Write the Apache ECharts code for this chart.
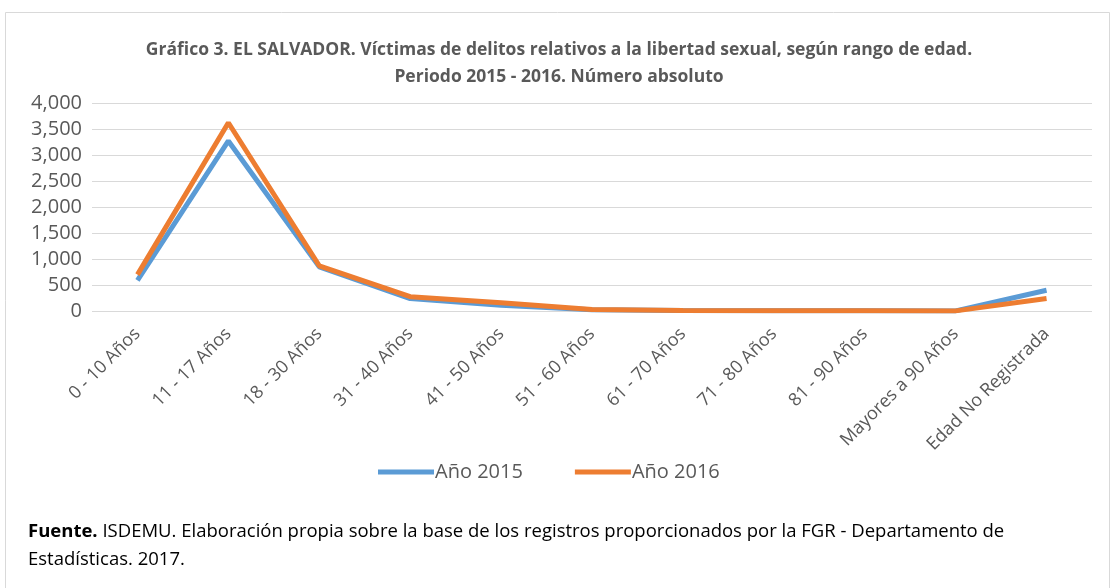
<!DOCTYPE html>
<html>
<head>
<meta charset="utf-8">
<script src="https://cdn.jsdelivr.net/npm/echarts@6/dist/echarts.min.js"></script>
<style>
  html, body { margin: 0; padding: 0; background: #fff; }
  #chart { width: 1118px; height: 588px; }
</style>
</head>
<body>
<div id="chart"></div>
<script>
var categories = ['0 - 10 Años', '11 - 17 Años', '18 - 30 Años', '31 - 40 Años', '41 - 50 Años',
  '51 - 60 Años', '61 - 70 Años', '71 - 80 Años', '81 - 90 Años', 'Mayores a 90 Años', 'Edad No Registrada'];
var anio2015 = [590, 3270, 850, 240, 110, 25, 10, 5, 3, 2, 400];
var anio2016 = [700, 3620, 870, 275, 160, 30, 12, 6, 4, 2, 240];
var yTicks = [0, 500, 1000, 1500, 2000, 2500, 3000, 3500, 4000];

var font = '"Open Sans", "Noto Sans", sans-serif';
var chart = echarts.init(document.getElementById('chart'));

var option = {
  backgroundColor: '#fff',
  animation: false,
  title: {
    text: 'Gráfico 3. EL SALVADOR. Víctimas de delitos relativos a la libertad sexual, según rango de edad.\nPeriodo 2015 - 2016. Número absoluto',
    left: 'center',
    top: 32,
    textStyle: { color: '#595959', fontSize: 17.5, fontWeight: 'bold', fontFamily: font, lineHeight: 27 }
  },
  legend: {
    top: 457,
    left: 373,
    itemWidth: 56,
    itemHeight: 5,
    itemGap: 52,
    icon: 'rect',
    textStyle: { color: '#595959', fontSize: 20, fontFamily: font, padding: [0, 0, 0, -4] },
    data: ['Año 2015', 'Año 2016']
  },
  grid: { left: 92, right: 26, top: 103, bottom: 277, containLabel: false },
  xAxis: {
    type: 'category',
    data: categories,
    boundaryGap: true,
    axisLine: { show: false },
    axisTick: { show: false },
    axisLabel: { rotate: 45, color: '#595959', fontSize: 18, fontFamily: font, margin: 20, interval: 0 }
  },
  yAxis: {
    type: 'value',
    min: yTicks[0],
    max: yTicks[yTicks.length - 1],
    interval: 500,
    axisLine: { show: false },
    axisTick: { show: false },
    splitLine: { lineStyle: { color: '#d9d9d9', width: 1 } },
    axisLabel: {
      color: '#595959', fontSize: 20, fontFamily: font, margin: 10,
      formatter: function (v) { return v.toLocaleString('en-US'); }
    }
  },
  series: [
    { name: 'Año 2015', type: 'line', data: anio2015, showSymbol: false, symbol: 'none',
      lineStyle: { width: 5, color: '#5B9BD5' }, itemStyle: { color: '#5B9BD5' } },
    { name: 'Año 2016', type: 'line', data: anio2016, showSymbol: false, symbol: 'none',
      lineStyle: { width: 5, color: '#ED7D31' }, itemStyle: { color: '#ED7D31' } }
  ],
  graphic: [
    { type: 'rect', shape: { x: 5.5, y: 12.5, width: 1104, height: 600 }, silent: true, z: -1,
      style: { fill: 'none', stroke: '#d9d9d9', lineWidth: 1 } },
    { type: 'text', left: 28, top: 518,
      style: {
        text: '{b|Fuente.} ISDEMU. Elaboración propia sobre la base de los registros proporcionados por la FGR - Departamento de\nEstadísticas. 2017.',
        font: '18.5px ' + font, fill: '#000', lineHeight: 28,
        rich: { b: { fontWeight: 'bold', fontSize: 18.5, fontFamily: font, fill: '#000' } }
      } }
  ]
};
chart.setOption(option);
</script>
</body>
</html>
